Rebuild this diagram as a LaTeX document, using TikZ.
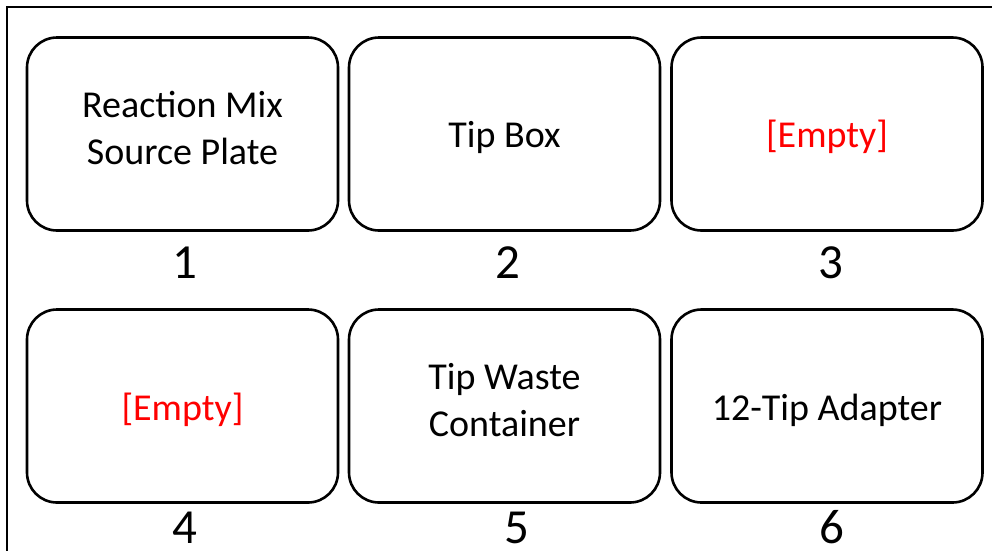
\documentclass[tikz,border=0pt]{standalone}
\usepackage{fontspec}
\setmainfont{Carlito}
\tikzset{
  slot/.style={draw, line width=2.6pt, rounded corners=30pt,
    minimum width=311pt, minimum height=193pt},
  slottext/.style={align=center, font=\fontsize{38}{47}\selectfont},
  slotnum/.style={anchor=base, font=\fontsize{49}{55}\selectfont},
  empty/.style={text=red}
}
\begin{document}
\begin{tikzpicture}[x=1pt,y=-1pt]
\clip (0,0) rectangle (992,550);
\draw[line width=2.6pt] (7,7) rectangle (1020,580);

% deck slots
\node[slot] (s1) at (182.5,134) {};
\node[slot] (s2) at (504.5,134) {};
\node[slot] (s3) at (827,134) {};
\node[slot] (s4) at (182.5,406) {};
\node[slot] (s5) at (504.5,406) {};
\node[slot] (s6) at (827,406) {};

\node[slottext] (t1) at (182.5,128) {Reaction Mix\\Source Plate};
\node[slottext] (t2) at (504.5,137) {Tip Box};
\node[slottext,empty] (t3) at (827,137) {[Empty]};
\node[slottext,empty] (t4) at (182.5,410) {[Empty]};
\node[slottext] (t5) at (504.5,400) {Tip Waste\\Container};
\node[slottext] (t6) at (827,410) {12-Tip Adapter};

% deck positions
\node[slotnum] (n1) at (185,278) {1};
\node[slotnum] (n2) at (508,278) {2};
\node[slotnum] (n3) at (831,278) {3};
\node[slotnum] (n4) at (185,543) {4};
\node[slotnum] (n5) at (517,543) {5};
\node[slotnum] (n6) at (832,543) {6};
\end{tikzpicture}
\end{document}
